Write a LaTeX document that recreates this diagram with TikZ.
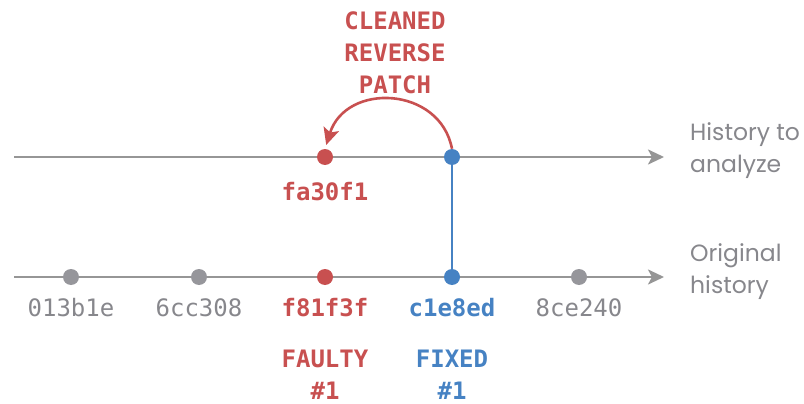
\documentclass[tikz,border=0pt]{standalone}
\usepackage{fontspec}
\usetikzlibrary{arrows.meta}
\newfontfamily\labfont{Poppins}
\newfontfamily\hashfont{DejaVu Sans Mono}
\definecolor{cred}{RGB}{200,80,80}
\definecolor{cblue}{RGB}{70,130,195}
\definecolor{cgray}{RGB}{150,150,155}
\definecolor{tgray}{RGB}{135,135,140}
\definecolor{lgray}{RGB}{150,150,150}
\tikzset{
  x=1pt,y=-1pt,
  timeline/.style={draw=lgray,line width=2.6pt,-{Stealth[length=16pt,width=15pt,inset=4pt]}},
  dot/.style={circle,inner sep=0pt,minimum size=16pt,fill=#1},
  hash/.style={font=\hashfont\fontsize{24}{28}\selectfont,text=#1,inner sep=0pt},
  bhash/.style={font=\hashfont\bfseries\fontsize{24}{28}\selectfont,text=#1,inner sep=0pt},
  blab/.style={font=\hashfont\bfseries\fontsize{24}{32}\selectfont,text=#1,align=center,inner sep=0pt},
  side/.style={font=\labfont\fontsize{23.5}{32}\selectfont,text=tgray,align=left,anchor=west,inner sep=0pt},
}
\begin{document}
\begin{tikzpicture}
\useasboundingbox (0,0) rectangle (804,404);
% end coordinates
\coordinate (ts) at (14,157);
\coordinate (te) at (664,157);
\coordinate (bs) at (14,277);
\coordinate (be) at (664,277);
\draw[timeline] (ts) -- (te);
\draw[timeline] (bs) -- (be);
% bottom dots
\node[dot=cgray] (d1) at (71,277) {};
\node[dot=cgray] (d2) at (199,277) {};
\node[dot=cred] (d3) at (325,277) {};
\node[dot=cblue] (d4) at (452,277) {};
\node[dot=cgray] (d5) at (579,277) {};
% top dots
\node[dot=cred] (t1) at (325,157) {};
\node[dot=cblue] (t2) at (452,157) {};
\draw[cblue,line width=1.8pt] (t2) -- (d4);
% arc
\draw[cred,line width=2.6pt,shorten >=4pt,-{Stealth[length=17pt,width=16pt,inset=4pt]}]
  (t2.north) .. controls (440,86) and (346,82) .. (t1.north);
% labels
\node[hash=tgray] (h1) at (71,308) {013b1e};
\node[hash=tgray] (h2) at (199,308) {6cc308};
\node[bhash=cred] (h3) at (325,308) {f81f3f};
\node[bhash=cblue] (h4) at (452,308) {c1e8ed};
\node[hash=tgray] (h5) at (579,308) {8ce240};
\node[bhash=cred] (h6) at (325,192) {fa30f1};
\node[blab=cred] (faulty) at (325,375) {FAULTY\\\#1};
\node[blab=cblue] (fixed) at (452,375) {FIXED\\\#1};
\node[blab=cred] (patch) at (395,53) {CLEANED\\REVERSE\\PATCH};
\node[side] (l1) at (690,151) {History to\\analyze};
\node[side] (l2) at (690,272) {Original\\history};
\end{tikzpicture}
\end{document}
